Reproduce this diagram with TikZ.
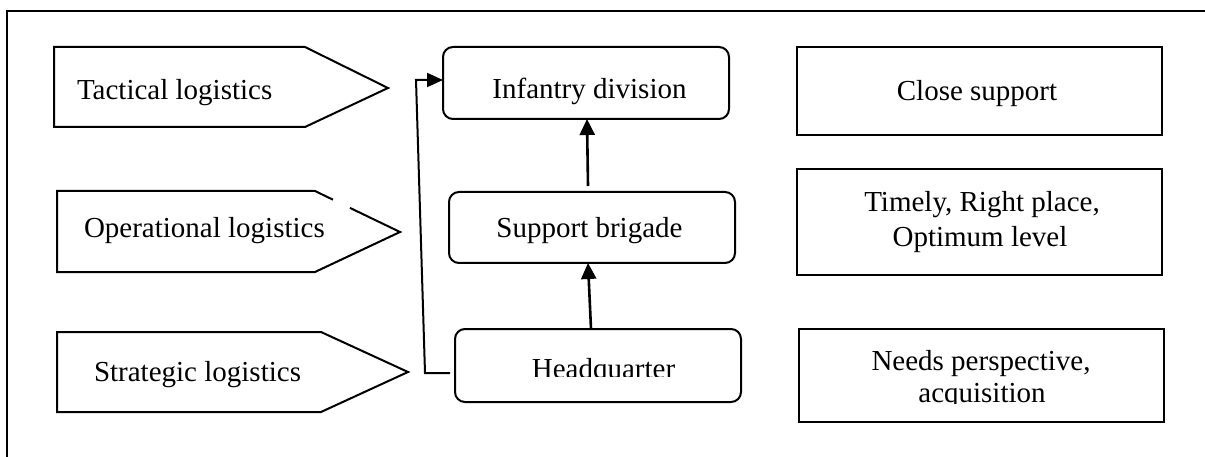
\documentclass[tikz,border=0pt]{standalone}
\usepackage{fontspec}
\setmainfont{Liberation Serif}
\usetikzlibrary{arrows.meta}
\begin{document}
\begin{tikzpicture}[x=1pt,y=-1pt,
  every node/.style={font=\fontsize{29}{34}\selectfont, inner sep=0pt, outer sep=0pt},
  rbox/.style={draw, line width=2pt, rounded corners=10pt, minimum width=286pt},
  sbox/.style={draw, line width=2pt, minimum width=365pt},
  shapeline/.style={line width=2pt, line join=miter},
  lbl/.style={anchor=base},
  lblw/.style={anchor=base west},
  conn/.style={line width=2pt, -{Triangle[length=16pt,width=14pt]}},
  thickconn/.style={line width=2.6pt, -{Triangle[length=16pt,width=15pt]}}
]
\useasboundingbox (0,0) rectangle (1205,457);
\fill[white] (0,0) rectangle (1205,457);

% outer frame (runs off the right and bottom edges)
\draw[line width=2pt] (1215,11) -- (7,11) -- (7,467);

% pentagon arrows on the left
\draw[shapeline] (54,47) -- (305,47) -- (388,88) -- (305,127) -- (54,127) -- cycle;
\draw[shapeline] (333,199.7) -- (315,191) -- (57,191) -- (57,272) -- (315,272) -- (400,232) -- (350,207.9);
\draw[shapeline] (57,332) -- (321,332) -- (408,372) -- (321,412) -- (57,412) -- cycle;

\node[lblw] (tac) at (77,100) {Tactical logistics};
\node[lblw] (ope) at (84,237) {Operational logistics};
\node[lblw] (str) at (94,381) {Strategic logistics};

% middle column
\node[rbox, minimum height=72pt] (inf) at (586,83) {};
\node[rbox, minimum height=71pt] (sb) at (592,227.5) {};
\node[rbox, minimum height=73pt] (hq) at (598,365.5) {};

\node[lbl] (inft) at (589.5,99) {Infantry division};
\node[lbl] (sbt) at (589.5,237) {Support brigade};
\begin{scope}
  \clip (460,340) rectangle (735,376.5);
  \node[lbl] (hqt) at (603.5,378) {Headquarter};
\end{scope}

\draw[thickconn] ([xshift=-7pt]hq.north) -- ([xshift=-4pt]sb.south);
\draw[thickconn] ([xshift=-4pt,yshift=6pt]sb.north) -- ([xshift=1pt]inf.south);

\coordinate (c1) at (425,373);
\coordinate (c2) at (416,80);
\draw[conn] ([xshift=-5pt,yshift=-7.5pt]hq.west) -- (c1) -- (c2) -- ([yshift=3pt]inf.west);

% right column
\node[sbox, minimum height=88pt] (cs) at (979.5,91) {};
\node[sbox, minimum height=106pt] (tr) at (979.5,222) {};
\node[sbox, minimum height=93pt] (np) at (981.5,375.5) {};

\node[lbl] (cst) at (977,101) {Close support};
\node[lbl] (tr1) at (982,212) {Timely, Right place,};
\node[lbl] (tr2) at (980,247) {Optimum level};
\node[lbl] (np1) at (981,370) {Needs perspective,};
\begin{scope}
  \clip (805,380) rectangle (1158,403);
  \node[lbl] (np2) at (982,402) {acquisition};
\end{scope}
\end{tikzpicture}
\end{document}
